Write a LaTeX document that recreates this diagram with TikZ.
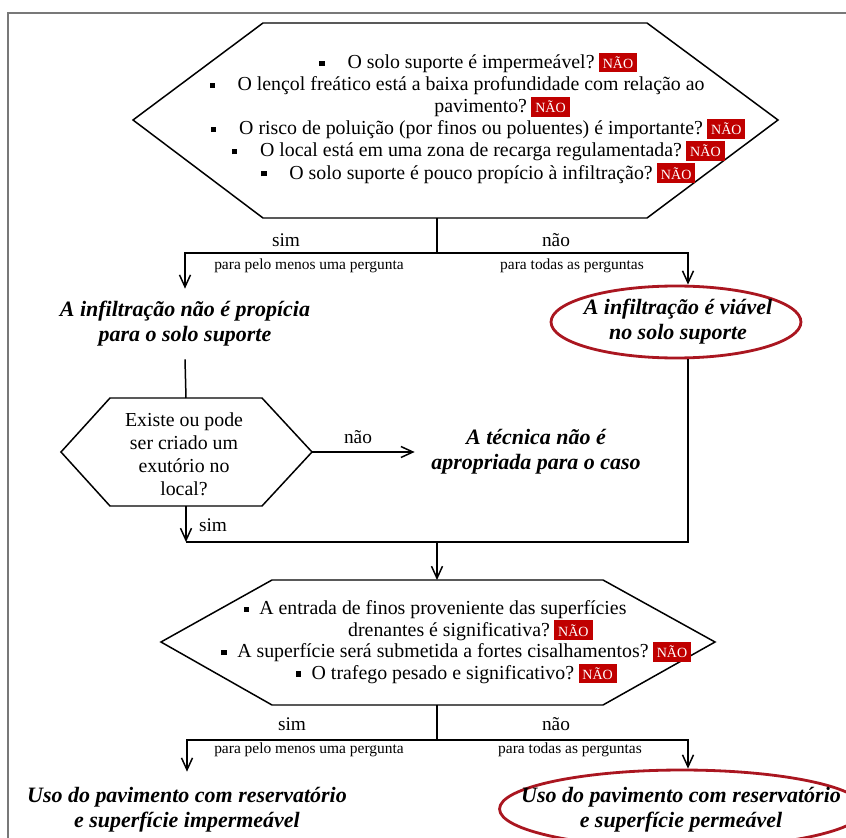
\documentclass[tikz,border=0pt]{standalone}
\usepackage{fontspec}
\setmainfont{Liberation Serif}
\usepackage{xcolor}
\usepackage{tikz}
\usetikzlibrary{positioning, arrows.meta, shapes.geometric}

\definecolor{naored}{RGB}{192,0,0}
\definecolor{ovalred}{RGB}{170,22,32}
\definecolor{framegray}{RGB}{120,120,120}

% bullet and the red answer tag
\newcommand{\bq}[1][13pt]{\raisebox{0.28ex}{\rule{3pt}{3pt}}\hspace{#1}}
\newcommand{\nao}{\rlap{\hspace{2.5pt}\setlength{\fboxsep}{2.2pt}\colorbox{naored}{\textcolor{white}{\fontsize{8}{9}\selectfont NÃO}}}}

\begin{document}
\begin{tikzpicture}[x=0.02cm, y=-0.02cm,
  qtxt/.style={align=center, inner sep=0pt, font=\fontsize{11.3}{12.6}\selectfont},
  res/.style={align=center, inner sep=0pt, font=\fontsize{12.5}{14.2}\selectfont\bfseries\itshape},
  lbl/.style={inner sep=0pt, font=\fontsize{11}{13}\selectfont},
  sub/.style={inner sep=0pt, font=\fontsize{8.8}{10}\selectfont},
  hexa/.style={draw, line width=0.85pt},
  ln/.style={line width=0.85pt},
  ar/.style={line width=0.85pt, -{Straight Barb[length=2.4mm, width=2.2mm]}},
  oval/.style={ellipse, draw=ovalred, line width=1.6pt, inner sep=0pt},
]
\useasboundingbox (0,0) rectangle (846,838);
\draw[framegray, line width=1.2pt] (8,838) -- (8,13) -- (846,13);

% First decision
\draw[hexa] (263,23) -- (647,23) -- (778,120) -- (647,218) -- (263,218) -- (133,120) -- cycle;
\node[qtxt] (q1) at (457,118) {%
  \bq O solo suporte é impermeável?\nao\\
  \bq O lençol freático está a baixa profundidade com relação ao\\
  \hspace*{27pt}pavimento?\nao\\
  \bq O risco de poluição (por finos ou poluentes) é importante?\nao\\
  \bq O local está em uma zona de recarga regulamentada?\nao\\
  \bq O solo suporte é pouco propício à infiltração?\nao};
\coordinate (q1s) at (437,218);
\coordinate (j1) at (437,253);
\coordinate (rc1) at (688,253);

\node[lbl] (sim1) at (286,240) {sim};
\node[lbl] (nao1) at (556,240) {não};
\node[sub] (sub1) at (309,266) {para pelo menos uma pergunta};
\node[sub] (sub2) at (572,266) {para todas as perguntas};

\node[res, minimum height=1.4cm] (naoprop) at (185,324) {A infiltração não é propícia\\para o solo suporte};
\node[oval, minimum width=5cm, minimum height=1.44cm] (ov1) at (676,322) {};
\node[res] (viavel) at (678,322) {A infiltração é viável\\no solo suporte};

\draw[ln] (q1s) -- (j1);
\draw[ar] (j1) -| (naoprop.north);
\draw[ar] (j1) -- (rc1) -- (ov1.north -| rc1);

% Outlet question
\draw[hexa] (110,398) -- (262,398) -- (312,452) -- (262,506) -- (110,506) -- (61,452) -- cycle;
\node[qtxt, font=\fontsize{11.3}{13}\selectfont] (exut) at (184,454) {Existe ou pode\\ser criado um\\exutório no\\local?};
\coordinate (x1n) at (186,398);
\coordinate (x1s) at (186,506);
\coordinate (x1e) at (312,452);

\node[res, minimum width=4.84cm] (tecnica) at (536,452) {A técnica não é\\apropriada para o caso};
\node[lbl] (nao2) at (358,437) {não};
\node[lbl] (sim2) at (213,525) {sim};

\draw[ln] (naoprop.south) -- (x1n);
\draw[ar] (x1e) -- (tecnica.west);

\coordinate (lj2) at (186,542);
\coordinate (j2) at (437,542);
\coordinate (rj2) at (688,542);
\draw[ar] (x1s) -- (lj2);
\draw[ln] (lj2) -- (rj2) -- (ov1.south -| rj2);

% Second decision
\draw[hexa] (272,580) -- (603,580) -- (715,642) -- (603,705) -- (272,705) -- (161,642) -- cycle;
\node[qtxt, font=\fontsize{11.3}{12.3}\selectfont] (q2) at (435,642) {%
  \bq[6pt]A entrada de finos proveniente das superfícies\\
  \hspace*{16pt}drenantes é significativa?\nao\\
  \bq[6pt]A superfície será submetida a fortes cisalhamentos?\nao\\
  \bq[6pt]O trafego pesado e significativo?\nao};
\coordinate (q2n) at (437,580);
\coordinate (q2s) at (437,705);
\coordinate (j3) at (437,740);
\coordinate (rc3) at (688,740);
\draw[ar] (j2) -- (q2n);

\node[lbl] (sim3) at (292,724) {sim};
\node[lbl] (nao3) at (556,724) {não};
\node[sub] (sub3) at (309,750) {para pelo menos uma pergunta};
\node[sub] (sub4) at (570,750) {para todas as perguntas};

\node[res, minimum height=1.52cm] (usoimp) at (187,810) {Uso do pavimento com reservatório\\e superfície impermeável};
\node[oval, minimum width=7.3cm, minimum height=1.56cm] (ov2) at (682,809) {};
\node[res] (usoperm) at (681,810) {Uso do pavimento com reservatório\\e superfície permeável};

\draw[ln] (q2s) -- (j3);
\draw[ar] (j3) -| (usoimp.north);
\draw[ar] (j3) -- (rc3) -- (ov2.north -| rc3);
\end{tikzpicture}
\end{document}
